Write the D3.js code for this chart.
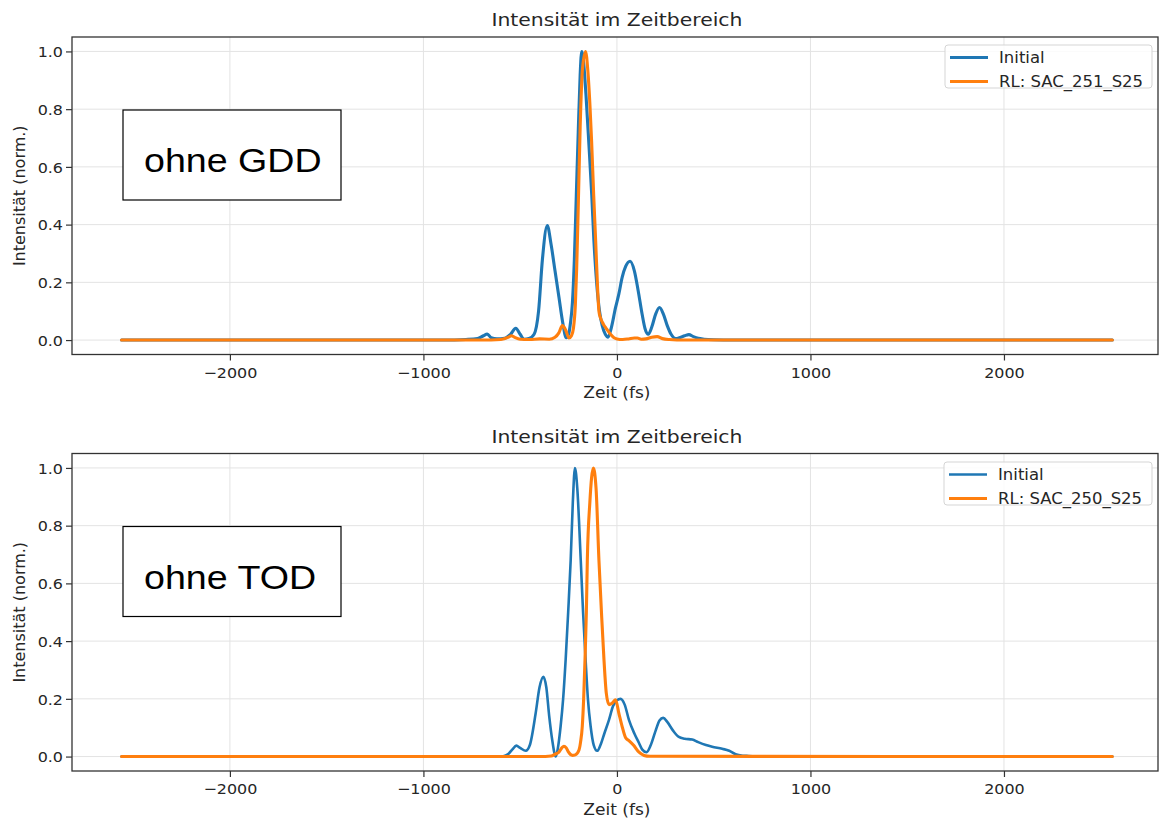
<!DOCTYPE html>
<html>
<head>
<meta charset="utf-8">
<script src="https://cdn.jsdelivr.net/npm/d3@7"></script>
<style>
  html, body { margin: 0; padding: 0; background: #fff; }
  svg { display: block; }
</style>
</head>
<body>
<svg id="chart" width="1162" height="820"></svg>
<script>
// ---------- data ----------
const xTicks = [-2000, -1000, 0, 1000, 2000];
const yTicks = [0, 0.2, 0.4, 0.6, 0.8, 1.0];
const chartTitle = "Intensität im Zeitbereich";
const xLabel = "Zeit (fs)";
const yLabel = "Intensität (norm.)";
const seriesNames1 = ["Initial", "RL: SAC_251_S25"];
const seriesNames2 = ["Initial", "RL: SAC_250_S25"];
const annotations = ["ohne GDD", "ohne TOD"];

// Panel 1 (ohne GDD)
const tGddInitial = [-2560, -900, -780, -720, -690, -670, -650, -620, -580, -550, -523, -500, -480, -455, -428, -405, -385, -360, -340, -320, -300, -280, -262, -250, -240, -230, -220, -210, -200, -190, -182, -172, -160, -145, -130, -119, -105, -90, -76, -60, -46, -30, -7, 10, 27, 45, 68, 90, 110, 130, 145, 162, 180, 200, 220, 240, 260, 280, 303, 330, 350, 372, 395, 420, 450, 500, 600, 2560];
const iGddInitial = [0, 0, 0.002, 0.005, 0.015, 0.021, 0.008, 0.004, 0.006, 0.02, 0.041, 0.02, 0.003, 0.005, 0.02, 0.1, 0.28, 0.397, 0.33, 0.24, 0.15, 0.06, 0.008, 0.02, 0.06, 0.13, 0.28, 0.5, 0.72, 0.92, 1.0, 0.96, 0.85, 0.68, 0.5, 0.344, 0.2, 0.1, 0.05, 0.02, 0.01, 0.04, 0.113, 0.16, 0.217, 0.255, 0.273, 0.24, 0.17, 0.09, 0.04, 0.02, 0.045, 0.09, 0.113, 0.09, 0.05, 0.02, 0.005, 0.01, 0.015, 0.019, 0.012, 0.006, 0.003, 0.001, 0, 0];
const tGddRL = [-2560, -700, -600, -560, -545, -530, -500, -450, -400, -350, -320, -300, -282, -265, -248, -235, -225, -215, -208, -200, -190, -178, -162, -150, -140, -131, -120, -110, -100, -93, -84, -70, -55, -33, -15, 0, 30, 60, 90, 106, 125, 150, 180, 208, 235, 270, 350, 2560];
const iGddRL = [0, 0, 0.002, 0.01, 0.015, 0.01, 0.003, 0.002, 0.004, 0.003, 0.01, 0.025, 0.05, 0.035, 0.007, 0.015, 0.04, 0.12, 0.25, 0.46, 0.74, 0.94, 1.0, 0.93, 0.82, 0.69, 0.5, 0.344, 0.18, 0.1, 0.075, 0.055, 0.04, 0.02, 0.008, 0.004, 0.002, 0.004, 0.007, 0.007, 0.003, 0.004, 0.01, 0.012, 0.005, 0.002, 0, 0];

// Panel 2 (ohne TOD)
const tTodInitial = [-2560, -650, -600, -583, -560, -540, -520, -500, -471, -450, -420, -400, -380, -365, -350, -335, -316, -305, -291, -278, -265, -252, -239, -228, -217, -205, -187, -175, -162, -150, -136, -120, -102, -85, -65, -41, -20, 0, 19, 40, 62, 90, 114, 130, 153, 175, 200, 220, 239, 260, 290, 320, 350, 389, 420, 460, 492, 544, 580, 613, 650, 680, 750, 2560];
const iTodInitial = [0, 0, 0.001, 0.002, 0.01, 0.025, 0.038, 0.03, 0.02, 0.04, 0.15, 0.24, 0.276, 0.24, 0.14, 0.06, 0.0, 0.03, 0.105, 0.2, 0.336, 0.5, 0.68, 0.88, 1.0, 0.93, 0.68, 0.5, 0.336, 0.2, 0.105, 0.04, 0.02, 0.04, 0.08, 0.127, 0.175, 0.195, 0.2, 0.18, 0.127, 0.08, 0.047, 0.025, 0.015, 0.04, 0.09, 0.125, 0.134, 0.12, 0.09, 0.068, 0.062, 0.059, 0.05, 0.04, 0.034, 0.027, 0.02, 0.008, 0.003, 0.002, 0, 0];
const tTodRL = [-2560, -400, -340, -320, -300, -285, -274, -262, -250, -231, -215, -196, -188, -179, -172, -165, -158, -153, -140, -122, -108, -93, -80, -67, -55, -41, -25, -7, 10, 27, 45, 62, 85, 114, 140, 170, 2560];
const iTodRL = [0, 0, 0.002, 0.008, 0.015, 0.03, 0.036, 0.03, 0.015, 0.004, 0.006, 0.023, 0.05, 0.105, 0.2, 0.336, 0.5, 0.68, 0.88, 1.0, 0.93, 0.68, 0.5, 0.336, 0.22, 0.18, 0.185, 0.197, 0.15, 0.104, 0.065, 0.055, 0.04, 0.015, 0.004, 0.001, 0];

// ---------- drawing ----------
const SX = 1.1; // horizontal text stretch of the reference
const FONT = "'DejaVu Sans', sans-serif";
const TXT = "#262626";
const BLUE = "#1f77b4", ORANGE = "#ff7f0e";

const svg = d3.select("#chart");

const panels = [
  { top: 37, bottom: 354.5, names: seriesNames1, note: annotations[0],
    series: [{t: tGddInitial, v: iGddInitial, c: BLUE, w: 3.1}, {t: tGddRL, v: iGddRL, c: ORANGE, w: 3.1}],
    legend: {x: 945, y: 45, w: 207, h: 43} },
  { top: 453.5, bottom: 771, names: seriesNames2, note: annotations[1],
    series: [{t: tTodInitial, v: iTodInitial, c: BLUE, w: 2.6}, {t: tTodRL, v: iTodRL, c: ORANGE, w: 3.1}],
    legend: {x: 944, y: 462, w: 208, h: 43} }
];

const left = 72, right = 1158;

panels.forEach(p => {
  const x = d3.scaleLinear().domain([-2816, 2796]).range([left, right]);
  const y = d3.scaleLinear().domain([-0.05, 1.05]).range([p.bottom, p.top]);
  const g = svg.append("g");

  // grid
  g.append("g").selectAll("line").data(xTicks).join("line")
    .attr("x1", d => x(d)).attr("x2", d => x(d))
    .attr("y1", p.top).attr("y2", p.bottom)
    .attr("stroke", "#e3e3e3").attr("stroke-width", 1);
  g.append("g").selectAll("line").data(yTicks).join("line")
    .attr("x1", left).attr("x2", right)
    .attr("y1", d => y(d)).attr("y2", d => y(d))
    .attr("stroke", "#e3e3e3").attr("stroke-width", 1);

  // annotation box
  const ann = g.append("g");
  ann.append("rect").attr("x", 123).attr("y", p.top + 73)
    .attr("width", 218).attr("height", 90)
    .attr("fill", "#fff").attr("stroke", "#000").attr("stroke-width", 1.2);
  ann.append("text")
    .attr("transform", `translate(144,${p.top + 135}) scale(1.14,1)`)
    .attr("font-family", "'Liberation Sans', Arial, sans-serif")
    .attr("font-size", 33).attr("fill", "#000")
    .text(p.note);

  // lines
  const line = d3.line().x((d) => x(d[0])).y(d => y(d[1])).curve(d3.curveMonotoneX);
  p.series.forEach(s => {
    g.append("path").datum(s.t.map((t, i) => [t, s.v[i]]))
      .attr("d", line).attr("fill", "none")
      .attr("stroke", s.c).attr("stroke-width", s.w)
      .attr("stroke-linejoin", "round").attr("stroke-linecap", "round");
  });

  // axes
  const xa = g.append("g").attr("transform", `translate(0,${p.bottom})`)
    .call(d3.axisBottom(x).tickValues(xTicks).tickFormat(d3.format("d")).tickSize(6).tickSizeOuter(0));
  xa.select(".domain").remove();
  xa.selectAll(".tick line").attr("stroke", "#333").attr("stroke-width", 1.2);
  xa.selectAll(".tick text")
    .attr("y", 23.5).attr("dy", 0)
    .attr("transform", `scale(${SX},1)`)
    .attr("font-family", FONT).attr("font-size", 14.5).attr("fill", TXT);

  const ya = g.append("g").attr("transform", `translate(${left},0)`)
    .call(d3.axisLeft(y).tickValues(yTicks).tickFormat(d3.format(".1f")).tickSize(6).tickSizeOuter(0));
  ya.select(".domain").remove();
  ya.selectAll(".tick line").attr("stroke", "#333").attr("stroke-width", 1.2);
  ya.selectAll(".tick text")
    .attr("x", -9 / SX).attr("dy", "0.36em")
    .attr("transform", `scale(${SX},1)`)
    .attr("font-family", FONT).attr("font-size", 14.5).attr("fill", TXT);

  // frame
  g.append("rect").attr("x", left).attr("y", p.top)
    .attr("width", right - left).attr("height", p.bottom - p.top)
    .attr("fill", "none").attr("stroke", "#333").attr("stroke-width", 1.3);

  // title & labels
  g.append("text")
    .attr("transform", `translate(${x(0)},${p.top - 11}) scale(${SX},1)`)
    .attr("text-anchor", "middle").attr("font-family", FONT)
    .attr("font-size", 18.5).attr("fill", TXT).text(chartTitle);
  g.append("text")
    .attr("transform", `translate(${x(0)},${p.bottom + 43.5}) scale(${SX},1)`)
    .attr("text-anchor", "middle").attr("font-family", FONT)
    .attr("font-size", 15.5).attr("fill", TXT).text(xLabel);
  g.append("text")
    .attr("transform", `translate(24.5,${(p.top + p.bottom) / 2}) rotate(-90)`)
    .attr("text-anchor", "middle").attr("font-family", FONT)
    .attr("font-size", 16).attr("fill", TXT).text(yLabel);

  // legend
  const L = p.legend;
  const lg = g.append("g");
  lg.append("rect").attr("x", L.x).attr("y", L.y).attr("width", L.w).attr("height", L.h)
    .attr("rx", 3).attr("fill", "#fff").attr("fill-opacity", 0.85)
    .attr("stroke", "#d5d5d5").attr("stroke-width", 1);
  p.names.forEach((n, i) => {
    const yy = L.y + 12.5 + i * 24;
    lg.append("line").attr("x1", L.x + 5).attr("x2", L.x + 43)
      .attr("y1", yy).attr("y2", yy)
      .attr("stroke", p.series[i].c).attr("stroke-width", p.series[i].w);
    lg.append("text")
      .attr("transform", `translate(${L.x + 54},${yy + 5.5}) scale(${SX},1)`)
      .attr("font-family", FONT).attr("font-size", 15).attr("fill", TXT).text(n);
  });
});
</script>
</body>
</html>
